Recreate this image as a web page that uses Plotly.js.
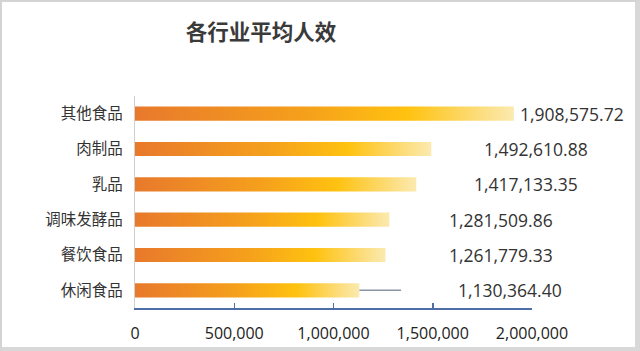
<!DOCTYPE html>
<html>
<head>
<meta charset="utf-8">
<script src="https://cdn.plot.ly/plotly-3.0.1.min.js"></script>
<style>
  html, body { margin: 0; padding: 0; background: #ffffff; }
  #wrap { position: relative; width: 640px; height: 351px; overflow: hidden; }
  #chart { width: 640px; height: 351px; }
  #frame { position: absolute; left: 0; top: 0; width: 640px; height: 351px; box-sizing: border-box;
           border-top: 2px solid #d4d4d4; border-left: 2px solid #d4d4d4;
           border-right: 5px solid #d8d8d8; border-bottom: 4px solid #d8d8d8; pointer-events: none; }
</style>
</head>
<body>
<svg width="0" height="0" style="position:absolute">
  <defs>
    <linearGradient id="barGrad" x1="0" y1="0" x2="1" y2="0">
      <stop offset="0" stop-color="#e8792c"/>
      <stop offset="0.45" stop-color="#f5a01c"/>
      <stop offset="0.72" stop-color="#ffc210"/>
      <stop offset="1" stop-color="#fbeab0"/>
    </linearGradient>
  </defs>
</svg>
<div id="wrap">
  <div id="chart"></div>
  <div id="frame"></div>
</div>
<script>
// ---- data ----
const categories = ["其他食品", "肉制品", "乳品", "调味发酵品", "餐饮食品", "休闲食品"];
const values = [1908575.72, 1492610.88, 1417133.35, 1281509.86, 1261779.33, 1130364.40];
const valueLabels = ["1,908,575.72", "1,492,610.88", "1,417,133.35", "1,281,509.86", "1,261,779.33", "1,130,364.40"];
const errorPlus = [0, 0, 0, 0, 0, 210000];
const xTickVals = [0, 500000, 1000000, 1500000, 2000000];
const xTickText = ["0", "500,000", "1,000,000", "1,500,000", "2,000,000"];

// ---- styling (label offsets in px) ----
const labelShift = [4, 51, 56, 58, 62, 97];

const trace = {
  type: "bar",
  orientation: "h",
  x: values,
  y: categories,
  marker: { color: "#f5a01c", line: { width: 0 } },
  error_x: { type: "data", array: errorPlus, symmetric: false, color: "#8a94a6", thickness: 1.5, width: 0 },
  hoverinfo: "none"
};

const annotations = categories.map((c, i) => ({
  x: values[i], y: c, xref: "x", yref: "y",
  text: valueLabels[i], showarrow: false,
  xanchor: "left", yanchor: "middle", xshift: labelShift[i],
  font: { family: "Open Sans, Noto Sans CJK SC, sans-serif", size: 17.5, color: "#333333" }
}));

const layout = {
  width: 640, height: 351,
  margin: { l: 135, r: 108, t: 96, b: 43 },
  paper_bgcolor: "#ffffff", plot_bgcolor: "#ffffff",
  showlegend: false,
  bargap: 0.6,
  title: {
    text: "<b>各行业平均人效</b>",
    x: 261 / 640, xanchor: "center", xref: "paper",
    y: 1 - 32 / 351, yanchor: "middle", yref: "container",
    font: { family: "Noto Sans CJK SC, sans-serif", size: 21.5, color: "#3a3a3a" }
  },
  xaxis: {
    range: [0, 2000000], fixedrange: true,
    tickvals: xTickVals, ticktext: xTickText,
    ticks: "inside", ticklen: 5, tickwidth: 1.5, tickcolor: "#4f6ea8",
    showline: true, linecolor: "#4f6ea8", linewidth: 1.5,
    showgrid: false, zeroline: false,
    ticklabelstandoff: 10,
    tickfont: { family: "Open Sans, Noto Sans CJK SC, sans-serif", size: 16, color: "#222222" }
  },
  yaxis: {
    autorange: "reversed", fixedrange: true,
    showline: true, linecolor: "#d0d0d0", linewidth: 1.2,
    ticks: "", showgrid: false, zeroline: false,
    ticklabelstandoff: 8,
    tickfont: { family: "Noto Sans CJK SC, sans-serif", size: 15.5, color: "#333333" }
  },
  annotations: annotations
};

// adjust title x so it is relative to the container
layout.title.xref = "container";

Plotly.newPlot("chart", [trace], layout, { displayModeBar: false, staticPlot: true }).then(gd => {
  gd.querySelectorAll(".bars .point path").forEach(p => {
    p.style.fill = "url(#barGrad)";
  });
});
</script>
</body>
</html>
